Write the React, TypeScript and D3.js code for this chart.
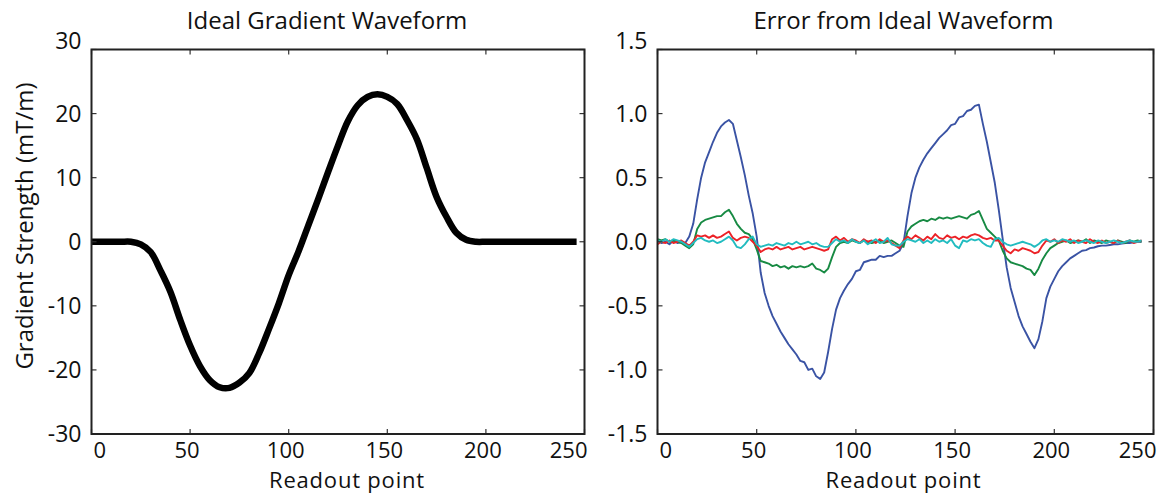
import React from "react";
import * as d3 from "d3";

// ---------- Data ----------
const IDEAL_X = [0, 5, 10, 15, 20, 25, 30, 35, 40, 45, 50, 55, 60, 65, 70, 75, 80, 85, 90, 95, 100, 105, 110, 115, 120, 125, 130, 135, 140, 145, 150, 155, 160, 165, 170, 175, 180, 185, 190, 195, 200, 210, 220, 230, 240, 246];
const IDEAL_Y = [0, 0, 0, 0, 0, -0.4, -1.6, -4.5, -7.8, -12.2, -16.2, -19.4, -21.6, -22.7, -22.8, -22.0, -20.5, -17.4, -13.6, -9.6, -5.2, -1.5, 2.6, 6.7, 10.9, 15.0, 18.8, 21.3, 22.6, 23.0, 22.6, 21.5, 19.0, 16.0, 11.5, 7.0, 3.9, 1.4, 0.3, 0, 0, 0, 0, 0, 0, 0];

// readout indices of the error traces (every 2nd readout point, 0..244)
const ERR_X = d3.range(0, 245, 2);
const ERR_BLUE = [
  0.01, -0.01, 0.0, -0.02, 0.01, -0.01, 0.0, -0.01, 0.04, 0.14,
  0.33, 0.50, 0.62, 0.70, 0.78, 0.85, 0.90, 0.93, 0.95, 0.92,
  0.79, 0.66, 0.52, 0.36, 0.22, 0.04, -0.24, -0.40, -0.50, -0.58,
  -0.64, -0.70, -0.75, -0.80, -0.84, -0.88, -0.93, -0.94, -1.00, -0.99,
  -1.05, -1.07, -1.02, -0.86, -0.68, -0.53, -0.44, -0.38, -0.33, -0.29,
  -0.23, -0.22, -0.16, -0.15, -0.14, -0.14, -0.11, -0.12, -0.11, -0.11,
  -0.09, -0.07, -0.01, 0.20, 0.38, 0.50, 0.58, 0.64, 0.69, 0.73,
  0.77, 0.81, 0.84, 0.87, 0.91, 0.92, 0.97, 0.98, 1.02, 1.03,
  1.06, 1.07, 0.92, 0.78, 0.62, 0.46, 0.25, 0.02, -0.20, -0.36,
  -0.47, -0.58, -0.66, -0.72, -0.78, -0.83, -0.76, -0.62, -0.44, -0.35,
  -0.29, -0.23, -0.19, -0.16, -0.13, -0.11, -0.09, -0.07, -0.065, -0.05,
  -0.045, -0.035, -0.03, -0.03, -0.025, -0.02, -0.02, -0.015, -0.01, -0.01,
  -0.005, 0.0, 0.0,
];
const ERR_GREEN = [
  0.02, 0.01, 0.02, 0.0, 0.01, 0.0, -0.01, -0.03, -0.05, -0.02,
  0.10, 0.15, 0.17, 0.18, 0.19, 0.20, 0.20, 0.23, 0.25, 0.20,
  0.14, 0.10, 0.07, 0.06, 0.02, -0.06, -0.15, -0.16, -0.17, -0.19,
  -0.18, -0.20, -0.19, -0.21, -0.19, -0.20, -0.19, -0.20, -0.19, -0.17,
  -0.21, -0.22, -0.24, -0.21, -0.12, -0.04, -0.01, 0.0, -0.01, 0.01,
  0.0, -0.01, 0.01, 0.0, -0.01, 0.0, 0.01, -0.01, 0.0, 0.01,
  -0.01, -0.03, -0.04, 0.08, 0.12, 0.14, 0.16, 0.17, 0.16, 0.18,
  0.17, 0.19, 0.18, 0.19, 0.18, 0.19, 0.20, 0.19, 0.18, 0.21,
  0.22, 0.24, 0.17, 0.10, 0.07, 0.04, 0.01, -0.07, -0.13, -0.16,
  -0.17, -0.18, -0.19, -0.21, -0.22, -0.26, -0.21, -0.14, -0.09, -0.05,
  -0.03, -0.01, 0.0, 0.01, -0.01, 0.0, 0.01, 0.0, 0.02, -0.01,
  0.01, 0.0, -0.01, 0.01, 0.0, -0.01, 0.01, 0.0, -0.01, 0.01,
  0.0, 0.01, 0.0,
];
const ERR_RED = [
  -0.02, 0.0, -0.01, 0.01, -0.01, 0.0, 0.01, -0.01, -0.03, 0.0,
  0.05, 0.04, 0.05, 0.03, 0.05, 0.03, 0.04, 0.06, 0.08, 0.03,
  0.01, 0.03, 0.04, 0.03, 0.0, -0.03, -0.08, -0.06, -0.05, -0.06,
  -0.04, -0.06, -0.05, -0.04, -0.06, -0.05, -0.04, -0.06, -0.05, -0.04,
  -0.05, -0.06, -0.07, -0.06, 0.02, 0.04, 0.01, 0.03, 0.0, 0.02,
  0.01, -0.01, 0.02, 0.0, 0.01, -0.01, 0.02, 0.0, 0.01, -0.01,
  -0.03, -0.05, 0.01, 0.04, 0.02, 0.05, 0.03, 0.01, 0.04, 0.02,
  0.06, 0.03, 0.02, 0.05, 0.03, 0.04, 0.02, 0.04, 0.03, 0.05,
  0.06, 0.05, 0.03, 0.02, 0.03, 0.01, 0.01, -0.03, -0.07, -0.09,
  -0.06, -0.07, -0.05, -0.06, -0.07, -0.09, -0.08, -0.03, 0.01, 0.0,
  0.02, -0.01, 0.01, 0.0, 0.02, -0.01, 0.01, 0.0, -0.01, 0.02,
  0.0, -0.01, 0.01, -0.01, 0.0, -0.01, 0.01, -0.01, 0.0, 0.01,
  -0.01, 0.0, 0.01,
];
const ERR_CYAN = [
  0.01, 0.0, 0.02, 0.0, 0.02, 0.01, 0.0, -0.02, -0.04, -0.01,
  0.02, 0.03, 0.01, 0.0, 0.01, -0.01, 0.0, 0.02, 0.04, 0.01,
  -0.04, -0.05, -0.02, 0.02, 0.04, -0.02, -0.04, -0.03, -0.02, -0.03,
  -0.01, -0.02, -0.03, -0.01, -0.02, 0.0, -0.02, -0.01, 0.0, -0.02,
  -0.01, -0.03, -0.04, -0.04, -0.01, 0.02, 0.0, 0.01, -0.01, 0.02,
  0.0, -0.01, 0.01, -0.02, 0.0, 0.02, -0.01, 0.0, 0.03, -0.02,
  -0.03, -0.03, 0.0, 0.02, 0.01, 0.0, 0.02, -0.01, 0.01, -0.01,
  0.02, 0.0, 0.01, -0.01, 0.02, -0.03, -0.05, 0.01, 0.0, 0.02,
  0.01, 0.02, -0.01, -0.03, -0.04, 0.02, 0.03, 0.0, -0.02, -0.03,
  -0.02, -0.01, 0.0, -0.01, -0.02, -0.04, -0.02, 0.01, 0.02, 0.0,
  0.01, 0.0, 0.02, 0.01, 0.0, 0.01, -0.01, 0.0, 0.01, 0.0,
  -0.01, 0.01, 0.0, -0.01, 0.0, 0.01, 0.0, -0.01, 0.0, 0.01,
  0.0, 0.0, 0.01,
];

const X_TICKS = [0, 50, 100, 150, 200, 250];
const LEFT_Y_TICKS = [-30, -20, -10, 0, 10, 20, 30];
const RIGHT_Y_TICKS = [-1.5, -1.0, -0.5, 0.0, 0.5, 1.0, 1.5];

const LEFT_TITLE = "Ideal Gradient Waveform";
const RIGHT_TITLE = "Error from Ideal Waveform";
const X_LABEL = "Readout point";
const Y_LABEL = "Gradient Strength (mT/m)";

const ERR_SERIES = [
  { name: "blue", values: ERR_BLUE, color: "#3a53a4" },
  { name: "green", values: ERR_GREEN, color: "#178a43" },
  { name: "red", values: ERR_RED, color: "#ec2227" },
  { name: "cyan", values: ERR_CYAN, color: "#21bcc0" },
];

const FONT = "'Open Sans', 'Noto Sans', sans-serif";
const TICK_FS = 23;
const XTICK_FS = 22;
const LABEL_FS = 24;
const XLABEL_FS = 22;

type PanelProps = {
  x0: number;
  x1: number;
  y0: number;
  y1: number;
  yDomain: [number, number];
  yTicks: number[];
  yFmt: (v: number) => string;
  title: string;
  titleDx: number;
  xLabelDx: number;
  children: (x: d3.ScaleLinear<number, number>, y: d3.ScaleLinear<number, number>) => React.ReactNode;
};

function Panel({ x0, x1, y0, y1, yDomain, yTicks, yFmt, title, titleDx, xLabelDx, children }: PanelProps) {
  const x = d3.scaleLinear().domain([0, 250]).range([x0, x1]);
  const y = d3.scaleLinear().domain(yDomain).range([y1, y0]);
  const tl = 5;
  const cx = (x0 + x1) / 2;
  return (
    <g fontFamily={FONT} fill="#111">
      <defs>
        <clipPath id={`clip-${x0}`}>
          <rect x={x0} y={y0} width={x1 - x0} height={y1 - y0} />
        </clipPath>
      </defs>
      <g clipPath={`url(#clip-${x0})`}>{children(x, y)}</g>
      {X_TICKS.map((t) => (
        <g key={"xt" + t} stroke="#333" strokeWidth={1.2}>
          <line x1={x(t)} x2={x(t)} y1={y1} y2={y1 - tl} />
          <line x1={x(t)} x2={x(t)} y1={y0} y2={y0 + tl} />
        </g>
      ))}
      {yTicks.map((t) => (
        <g key={"yt" + t} stroke="#333" strokeWidth={1.2}>
          <line x1={x0} x2={x0 + tl} y1={y(t)} y2={y(t)} />
          <line x1={x1} x2={x1 - tl} y1={y(t)} y2={y(t)} />
        </g>
      ))}
      <rect x={x0} y={y0} width={x1 - x0} height={y1 - y0} fill="none" stroke="#222" strokeWidth={2} />
      {X_TICKS.map((t, i) => {
        const first = i === 0;
        const last = i === X_TICKS.length - 1;
        return (
          <text
            key={"xl" + t}
            x={first ? x(t) + 2 : last ? x(t) + 3 : x(t) - 3}
            y={y1 + 24}
            fontSize={XTICK_FS}
            textAnchor={first ? "start" : last ? "end" : "middle"}
          >
            {t}
          </text>
        );
      })}
      {yTicks.map((t, i) => (
        <text
          key={"yl" + t}
          x={x0 - 10}
          y={y(t) + (i === yTicks.length - 1 ? -9 : 0)}
          dy="0.36em"
          fontSize={TICK_FS}
          textAnchor="end"
        >
          {yFmt(t)}
        </text>
      ))}
      <text x={cx + titleDx} y={29} fontSize={LABEL_FS} textAnchor="middle">
        {title}
      </text>
      <text x={cx + xLabelDx} y={488} fontSize={XLABEL_FS} letterSpacing={0.8} textAnchor="middle">
        {X_LABEL}
      </text>
    </g>
  );
}

export default function App() {
  const idealPts = IDEAL_X.map((v, i) => [v, IDEAL_Y[i]] as [number, number]);
  return (
    <svg
      width={1171}
      height={495}
      viewBox="0 0 1171 495"
      style={{ position: "absolute", left: 0, top: 0, background: "#fff" }}
    >
      <rect x={0} y={0} width={1171} height={495} fill="#fff" />
      <Panel
        x0={91.5}
        x1={584.5}
        y0={49.5}
        y1={434}
        yDomain={[-30, 30]}
        yTicks={LEFT_Y_TICKS}
        yFmt={(v) => String(v)}
        title={LEFT_TITLE}
        titleDx={-11}
        xLabelDx={9}
      >
        {(x, y) => {
          const line = d3
            .line<[number, number]>()
            .x((d) => x(d[0]))
            .y((d) => y(d[1]))
            .curve(d3.curveCatmullRom.alpha(0.5));
          return <path d={line(idealPts) || ""} fill="none" stroke="#000" strokeWidth={6.5} strokeLinejoin="round" />;
        }}
      </Panel>
      <Panel
        x0={657.5}
        x1={1153.5}
        y0={49.5}
        y1={434}
        yDomain={[-1.5, 1.5]}
        yTicks={RIGHT_Y_TICKS}
        yFmt={(v) => v.toFixed(1)}
        title={RIGHT_TITLE}
        titleDx={-2}
        xLabelDx={-2}
      >
        {(x, y) => {
          const line = d3
            .line<number>()
            .x((_, i) => x(ERR_X[i]))
            .y((d) => y(d));
          return ERR_SERIES.map((s) => (
            <path key={s.name} d={line(s.values) || ""} fill="none" stroke={s.color} strokeWidth={1.9} strokeLinejoin="round" />
          ));
        }}
      </Panel>
      <text
        transform="translate(33,226) rotate(-90)"
        fontFamily={FONT}
        fontSize={LABEL_FS}
        textAnchor="middle"
        fill="#111"
      >
        {Y_LABEL}
      </text>
    </svg>
  );
}
